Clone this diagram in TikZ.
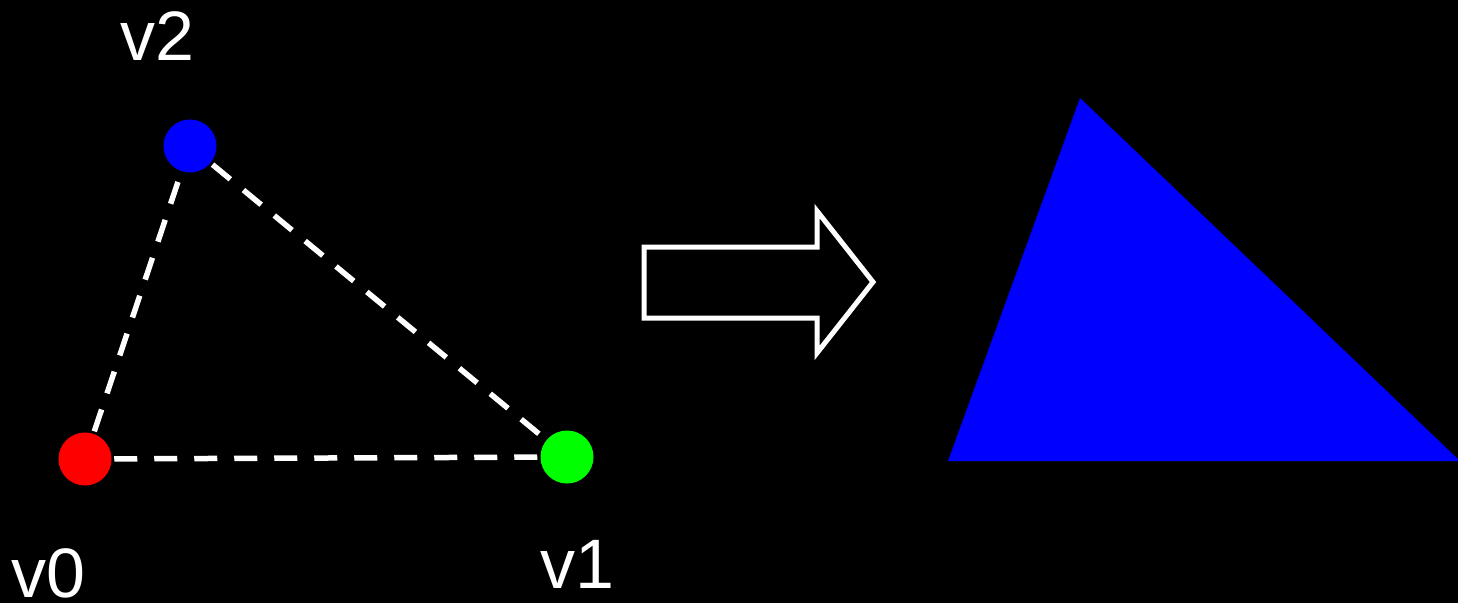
\documentclass[tikz,border=0pt]{standalone}
\usepackage{fontspec}
\setmainfont{Liberation Sans}
\usetikzlibrary{positioning}

\begin{document}
\begin{tikzpicture}[x=1pt,y=-1pt,font=\fontsize{70}{84}\selectfont,line width=5.5pt]
  \tikzstyle{vert}=[circle,minimum size=53pt,inner sep=0pt]
  \tikzstyle{lbl}=[text=white,anchor=base,inner sep=0pt,text depth=0pt]
  \tikzstyle{edge}=[white,dash pattern=on 23pt off 17pt]
  \fill[black] (0,0) rectangle (1458,603);
  \useasboundingbox (0,0) rectangle (1458,603);
  % the three vertices
  \node[vert,fill=red] (v0) at (85,459) {};
  \node[vert,fill=green] (v1) at (567,457) {};
  \node[vert,fill=blue] (v2) at (190,146) {};
  \node[lbl] (l0) at (48,597) {v0};
  \node[lbl] (l1) at (577,588) {v1};
  \node[lbl] (l2) at (157,60) {v2};
  \draw[edge] (v0) -- (v1); \draw[edge] (v0) -- (v2); \draw[edge] (v2) -- (v1);
  % outlined arrow
  \draw[white,line width=5pt,miter limit=10] (644,247) -- (817,247) -- (817,211) -- (873,282)
        -- (817,353) -- (817,318) -- (644,318) -- cycle;
  % filled triangle
  \fill[blue] (948,461) -- (1080,98) -- (1460,461) -- cycle;
\end{tikzpicture}
\end{document}
